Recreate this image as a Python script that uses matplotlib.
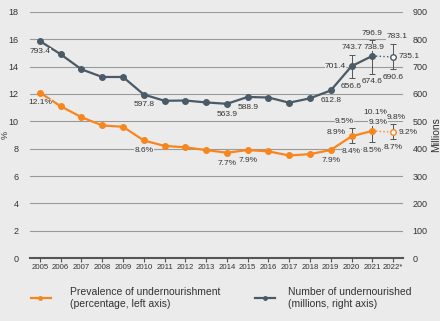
import matplotlib.pyplot as plt
from matplotlib.lines import Line2D

years = list(range(2005, 2023))
year_labels = [str(y) for y in years[:-1]] + ["2022*"]

# prevalence (%), left axis
pou = [12.1, 11.1, 10.3, 9.7, 9.6, 8.6, 8.2, 8.1, 7.9, 7.7, 7.9, 7.8, 7.5, 7.6, 7.9, 8.9, 9.3, 9.2]
pou_lo = [8.4, 8.5, 8.7]
pou_hi = [9.5, 10.1, 9.8]
# number undernourished (millions), right axis
nou = [793.4, 745, 690, 662, 662, 597.8, 575, 576, 569, 563.9, 588.9, 587, 568, 584, 612.8, 701.4, 738.9, 735.1]
nou_lo = [656.6, 674.6, 690.6]
nou_hi = [743.7, 796.9, 783.1]

bg = "#ebebeb"
orange = "#f7861e"
slate = "#4a5a66"
txt = "#333333"

plt.rcParams['font.family'] = ['Liberation Sans', 'DejaVu Sans']

fig = plt.figure(figsize=(4.4, 3.21), dpi=100, facecolor=bg)
ax = fig.add_axes([0.068, 0.196, 0.848, 0.767], facecolor=bg)
ax2 = ax.twinx()

ax.set_xlim(2004.52, 2022.48)
ax.set_ylim(0, 18)
ax2.set_ylim(0, 900)
ax.set_yticks(range(0, 19, 2))
ax2.set_yticks(range(0, 901, 100))
ax.set_xticks(years)
ax.set_xticklabels(year_labels)
ax.grid(axis='y', color='#9a9a9a', linewidth=0.8)
ax.set_axisbelow(True)
for a in (ax, ax2):
    for s in ['top', 'left', 'right', 'bottom']:
        a.spines[s].set_visible(False)
ax.spines['bottom'].set_visible(True)
ax.spines['bottom'].set_color('#555555')
ax.spines['bottom'].set_linewidth(1.5)
ax.tick_params(axis='x', length=3, width=0.8, color='#555555', labelsize=5.6, labelcolor=txt, pad=1)
ax.tick_params(axis='y', length=0, labelsize=6.5, labelcolor=txt, pad=8)
ax2.tick_params(axis='y', length=0, labelsize=6.5, labelcolor=txt, pad=7)
ax.set_ylabel("%", fontsize=6.5, color=txt)
ax.yaxis.set_label_coords(-0.055, 0.5)
ax2.set_ylabel("Millions", fontsize=7.5, color=txt)
ax2.yaxis.set_label_coords(1.075, 0.5)

ekw = dict(ecolor='#555555', elinewidth=0.7, capsize=2, capthick=0.7, fmt='none', zorder=3)

# number series (right axis)
ax2.plot(years[:-1], nou[:-1], color=slate, lw=1.6, marker='o', ms=4, zorder=4)
ax2.plot(years[-2:], nou[-2:], color=slate, lw=1, ls=':', zorder=4)
ax2.plot(years[-1], nou[-1], marker='o', ms=4, mfc='white', mec=slate, mew=1, zorder=5)
ax2.errorbar(years[-3:], nou[-3:], yerr=[[n - l for n, l in zip(nou[-3:], nou_lo)],
                                         [h - n for n, h in zip(nou[-3:], nou_hi)]], **ekw)

# prevalence series (left axis)
ax.plot(years[:-1], pou[:-1], color=orange, lw=1.6, marker='o', ms=4, zorder=4)
ax.plot(years[-2:], pou[-2:], color=orange, lw=1, ls=':', zorder=4)
ax.plot(years[-1], pou[-1], marker='o', ms=4, mfc='white', mec=orange, mew=1, zorder=5)
ax.errorbar(years[-3:], pou[-3:], yerr=[[p - l for p, l in zip(pou[-3:], pou_lo)],
                                       [h - p for p, h in zip(pou[-3:], pou_hi)]], **ekw)
ax2.set_zorder(ax.get_zorder() + 1)
ax2.patch.set_visible(False)

lab = dict(fontsize=6, color=txt, bbox=dict(fc=bg, ec='none', pad=0.2), zorder=6)

def note(a, x, y, s, dx, dy, ha='center', va='center'):
    a.annotate(s, (x, y), xytext=(dx, dy), textcoords='offset points', ha=ha, va=va, **lab)

# labels for number series
for i in [0, 5, 9, 10, 14]:
    note(ax2, years[i], nou[i], f"{nou[i]:.1f}", 0, -7.5)
note(ax2, 2020, nou[15], f"{nou[15]:.1f}", -4, 0, ha='right')
note(ax2, 2021, nou[16], f"{nou[16]:.1f}", 1, 6, ha='center')
note(ax2, 2022, nou[17], f"{nou[17]:.1f}", 4, 0, ha='left')
for k, yr in enumerate([2020, 2021, 2022]):
    note(ax2, yr, nou_hi[k], f"{nou_hi[k]:.1f}", 0 if yr != 2022 else 3, 5)
    note(ax2, yr, nou_lo[k], f"{nou_lo[k]:.1f}", 0, -6)

# labels for prevalence series
for i in [0, 5, 9, 10, 14]:
    note(ax, years[i], pou[i], f"{pou[i]:.1f}%", 0, -7.5)
note(ax, 2020, pou[15], f"{pou[15]:.1f}%", -4, 3, ha='right')
note(ax, 2021, pou[16], f"{pou[16]:.1f}%", 4, 6)
note(ax, 2022, pou[17], f"{pou[17]:.1f}%", 4, 0, ha='left')
for k, yr in enumerate([2020, 2021, 2022]):
    note(ax, yr, pou_hi[k], f"{pou_hi[k]:.1f}%", -5 if yr == 2020 else 2, 5)
    note(ax, yr, pou_lo[k], f"{pou_lo[k]:.1f}%", 0, -6)

# legend
ly = 0.072
fig.add_artist(Line2D([0.07, 0.115], [ly, ly], color=orange, lw=1.6, transform=fig.transFigure))
fig.add_artist(Line2D([0.092], [ly], color=orange, marker='o', ms=2.5, transform=fig.transFigure))
fig.text(0.158, ly, "Prevalence of undernourishment\n(percentage, left axis)",
         fontsize=7.5, color=txt, va='center', linespacing=1.3)
fig.add_artist(Line2D([0.58, 0.625], [ly, ly], color=slate, lw=1.6, transform=fig.transFigure))
fig.add_artist(Line2D([0.602], [ly], color=slate, marker='o', ms=2.5, transform=fig.transFigure))
fig.text(0.655, ly, "Number of undernourished\n(millions, right axis)",
         fontsize=7.5, color=txt, va='center', linespacing=1.3)

fig.savefig("out.png", dpi=100, facecolor=bg)
